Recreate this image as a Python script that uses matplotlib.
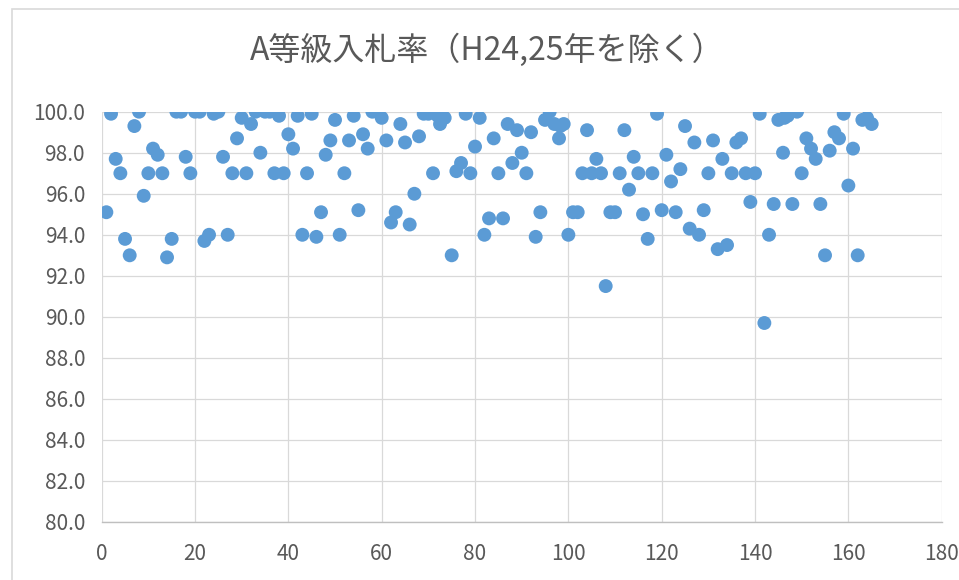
import matplotlib
matplotlib.use("Agg")
import matplotlib.pyplot as plt
from matplotlib.patches import Rectangle
from matplotlib.ticker import FormatStrFormatter, MultipleLocator

plt.rcParams['font.family'] = ['Noto Sans CJK JP', 'DejaVu Sans']

title = 'A等級入札率（H24,25年を除く）'

# point index and bid rate (%)
idx = [1, 2, 3, 4, 5, 6, 7, 8, 9, 10,
       11, 12, 13, 14, 15, 16, 17, 18, 19, 20,
       21, 22, 23, 24, 25, 26, 27, 28, 29, 30,
       31, 32, 33, 34, 35, 36, 37, 38, 39, 40,
       41, 42, 43, 44, 45, 46, 47, 48, 49, 50,
       51, 52, 53, 54, 55, 56, 57, 58, 59, 60,
       61, 62, 63, 64, 65, 66, 67, 68, 69, 70,
       71, 72, 72.5, 73.5, 75, 76, 77, 78, 79, 80,
       81, 82, 83, 84, 85, 86, 87, 88, 89, 90,
       91, 92, 93, 94, 95, 96, 97, 98, 98.3, 99,
       100, 101, 102, 103, 104, 105, 106, 107, 108, 109,
       110, 111, 112, 113, 114, 115, 116, 117, 118, 119,
       120, 121, 122, 123, 124, 125, 126, 127, 128, 129,
       130, 131, 132, 133, 134, 135, 136, 137, 138, 139,
       140, 141, 142, 143, 144, 145, 146, 146.3, 147, 148,
       149, 150, 151, 152, 153, 154, 155, 156, 157, 158,
       159, 160, 161, 162, 163, 164, 165]

rate = [95.1, 99.9, 97.7, 97.0, 93.8, 93.0, 99.3, 100.0, 95.9, 97.0,
        98.2, 97.9, 97.0, 92.9, 93.8, 100.0, 100.0, 97.8, 97.0, 100.0,
        100.0, 93.7, 94.0, 99.9, 100.0, 97.8, 94.0, 97.0, 98.7, 99.7,
        97.0, 99.4, 100.0, 98.0, 100.0, 100.0, 97.0, 99.8, 97.0, 98.9,
        98.2, 99.8, 94.0, 97.0, 99.9, 93.9, 95.1, 97.9, 98.6, 99.6,
        94.0, 97.0, 98.6, 99.8, 95.2, 98.9, 98.2, 100.0, 100.0, 99.7,
        98.6, 94.6, 95.1, 99.4, 98.5, 94.5, 96.0, 98.8, 99.9, 99.9,
        97.0, 99.8, 99.4, 99.7, 93.0, 97.1, 97.5, 99.9, 97.0, 98.3,
        99.7, 94.0, 94.8, 98.7, 97.0, 94.8, 99.4, 97.5, 99.1, 98.0,
        97.0, 99.0, 93.9, 95.1, 99.6, 100.0, 99.4, 98.7, 99.3, 99.4,
        94.0, 95.1, 95.1, 97.0, 99.1, 97.0, 97.7, 97.0, 91.5, 95.1,
        95.1, 97.0, 99.1, 96.2, 97.8, 97.0, 95.0, 93.8, 97.0, 99.9,
        95.2, 97.9, 96.6, 95.1, 97.2, 99.3, 94.3, 98.5, 94.0, 95.2,
        97.0, 98.6, 93.3, 97.7, 93.5, 97.0, 98.5, 98.7, 97.0, 95.6,
        97.0, 99.9, 89.7, 94.0, 95.5, 99.6, 98.0, 99.7, 99.8, 95.5,
        100.0, 97.0, 98.7, 98.2, 97.7, 95.5, 93.0, 98.1, 99.0, 98.7,
        99.9, 96.4, 98.2, 93.0, 99.6, 99.7, 99.4]

xticks = [0, 20, 40, 60, 80, 100, 120, 140, 160, 180]

fig = plt.figure(figsize=(9.59, 5.80), dpi=100)
ax = fig.add_axes([101.7 / 959, 1 - 522 / 580, 840 / 959, 410.3 / 580])

# chart area border
fig.patches.append(Rectangle((11.5 / 959, -0.1), 1.2, 1.1 - 9 / 580,
                             transform=fig.transFigure, fill=False,
                             edgecolor='#d9d9d9', linewidth=1.2))

ax.scatter(idx, rate, s=100, color='#5B9BD5', edgecolors='none', zorder=3)

ax.set_xlim(0, 180)
ax.set_ylim(80, 100)
ax.set_xticks(xticks)
ax.yaxis.set_major_locator(MultipleLocator(2))
ax.yaxis.set_major_formatter(FormatStrFormatter('%.1f'))
ax.grid(True, color='#d9d9d9', linewidth=0.9)
ax.set_axisbelow(True)
for s in ['top', 'right', 'left']:
    ax.spines[s].set_visible(False)
ax.spines['bottom'].set_color('#bfbfbf')
ax.spines['bottom'].set_linewidth(1.0)
ax.tick_params(length=0, labelsize=15, colors='#595959')
ax.tick_params(axis='y', pad=12)
ax.tick_params(axis='x', pad=15)

fig.text(487 / 959, 1 - 50 / 580, title, ha='center', va='center',
         fontsize=23, color='#595959')

fig.savefig('out.png', dpi=100)
